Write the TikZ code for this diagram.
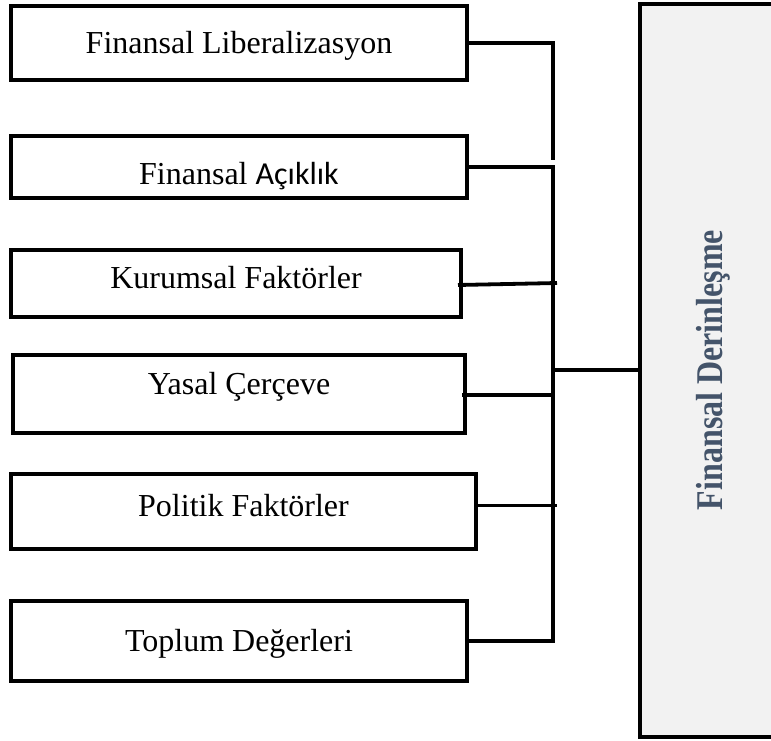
\documentclass[tikz,border=0pt]{standalone}
\usepackage{fontspec}
\setmainfont{Liberation Serif}
\newfontfamily\calibrifont{Carlito}

\definecolor{derinblue}{HTML}{44546A}
\definecolor{derinfill}{HTML}{F2F2F2}

\newcommand*\boxline{3.8pt}
\tikzset{factor/.style 2 args={
    draw,
    line width=\boxline,
    font=\fontsize{32}{38}\selectfont,
    rectangle,
    fill=white,
    anchor=north west,
    outer sep=0pt,
    inner sep=0pt,
    minimum width=#1,
    minimum height=#2,
    text height=21pt,
    text depth=0pt
}}
\tikzset{link/.style={line width=\boxline}}

\begin{document}
\begin{tikzpicture}[x=1pt,y=-1pt]
    \useasboundingbox (0,0) rectangle (771,740);

    % First the factor boxes on the left.
    %\node[factor={WIDTH}{HEIGHT}] at (LEFT,TOP) {TEXT};
    \node[factor={456pt}{74pt}] (liberal) at (11,6) {Finansal Liberalizasyon};
    \node[factor={456pt}{62pt}] (acik) at (11,136) {\raisebox{-7pt}{Finansal {\calibrifont Açıklık}}};
    \node[factor={450pt}{67pt}] (kurum) at (11,250) {\raisebox{6pt}{Kurumsal Faktörler}};
    \node[factor={452pt}{78pt}] (yasal) at (13,355) {\raisebox{10pt}{Yasal Çerçeve}};
    \node[factor={465pt}{75pt}] (politik) at (11,474) {\raisebox{6pt}{Politik Faktörler}};
    \node[factor={456pt}{80pt}] (toplum) at (11,601) {Toplum Değerleri};

    % The big grey box on the right, with its turned title.
    \node[draw, line width=\boxline, fill=derinfill, anchor=north west, outer sep=0pt,
        minimum width=150pt, minimum height=733pt] (derin) at (640,4) {};
    \node[rotate=90, text=derinblue, font=\bfseries\fontsize{32}{38}\selectfont,
        text height=25pt, text depth=0pt] (derin text) at (710,370)
        {\scalebox{1}[1.18]{Finansal Derinleşme}};

    % Ends of the brackets.
    \coordinate (spine) at (553,370);
    \coordinate (upper end) at (553,160);
    \coordinate (lower end) at (553,641);

    % Draw the brackets.
    \draw[link] (liberal.east) -| (upper end);
    \draw[link] (acik.east) -| (lower end) -- (toplum.east);
    \draw[link] ([xshift=-3pt,yshift=-1.5pt]kurum.east) -- ([xshift=4pt,yshift=0.5pt]kurum.east -| spine);
    \draw[link] ([xshift=-3pt,yshift=-1pt]yasal.east) -- ([yshift=-1pt]yasal.east -| spine);
    \draw[link] ([yshift=6pt]politik.east) -- ([xshift=4pt,yshift=6pt]politik.east -| spine);
    \draw[link] (spine) -- (spine -| derin.west);

\end{tikzpicture}
\end{document}
